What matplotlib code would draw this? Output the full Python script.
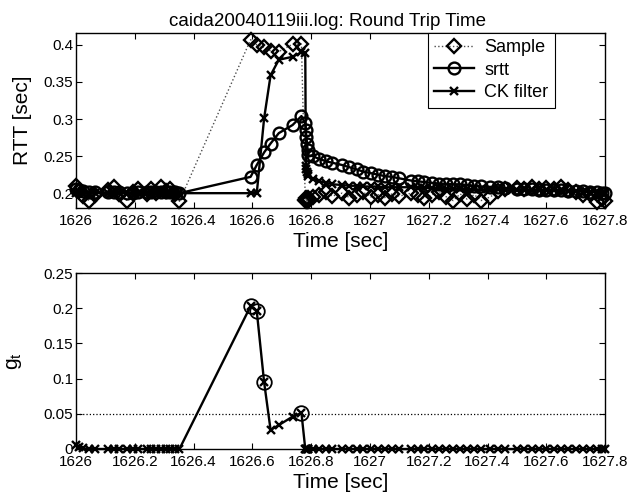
import matplotlib
matplotlib.use('Agg')
import matplotlib.pyplot as plt
import numpy as np

plt.rcParams['font.family'] = ['Liberation Sans', 'DejaVu Sans']
plt.rcParams['mathtext.fontset'] = 'custom'
plt.rcParams['mathtext.rm'] = 'Liberation Sans'

# sample times [sec]
t = [1626.000, 1626.012, 1626.025, 1626.045, 1626.065, 1626.110, 1626.128, 1626.145,
     1626.175, 1626.195, 1626.210, 1626.240, 1626.255, 1626.272, 1626.290, 1626.305,
     1626.320, 1626.338, 1626.352,
     1626.594, 1626.615, 1626.640, 1626.662, 1626.690, 1626.737, 1626.767,
     1626.780, 1626.782, 1626.784, 1626.786, 1626.788, 1626.790,
     1626.805, 1626.828, 1626.852, 1626.872, 1626.905, 1626.930, 1626.955, 1626.978,
     1627.003, 1627.028, 1627.050, 1627.075, 1627.100, 1627.140, 1627.162, 1627.185,
     1627.210, 1627.235, 1627.260, 1627.283, 1627.307, 1627.330, 1627.355, 1627.378,
     1627.410, 1627.435, 1627.460, 1627.500, 1627.525, 1627.550, 1627.575, 1627.600,
     1627.625, 1627.650, 1627.675, 1627.700, 1627.725, 1627.750, 1627.772, 1627.790,
     1627.800]

rtt_sample = [0.210, 0.203, 0.196, 0.190, 0.198, 0.204, 0.208, 0.199,
              0.190, 0.201, 0.205, 0.199, 0.206, 0.200, 0.208, 0.203,
              0.205, 0.199, 0.189,
              0.407, 0.400, 0.397, 0.392, 0.391, 0.401, 0.401,
              0.191, 0.190, 0.193, 0.189, 0.194, 0.190,
              0.195, 0.198, 0.201, 0.196, 0.200, 0.194, 0.197, 0.201,
              0.195, 0.198, 0.194, 0.199, 0.196, 0.200, 0.197, 0.193,
              0.198, 0.201, 0.195, 0.190, 0.199, 0.192, 0.198, 0.190,
              0.195, 0.203, 0.206, 0.207, 0.206, 0.208, 0.205, 0.207,
              0.206, 0.208, 0.204, 0.201, 0.197, 0.199, 0.188, 0.192,
              0.189]

srtt = [0.205, 0.204, 0.203, 0.201, 0.201, 0.201, 0.202, 0.202,
        0.200, 0.200, 0.201, 0.201, 0.201, 0.201, 0.202, 0.202,
        0.202, 0.202, 0.200,
        0.222, 0.238, 0.255, 0.267, 0.281, 0.292, 0.304,
        0.294, 0.285, 0.276, 0.267, 0.258, 0.251,
        0.250, 0.246, 0.243, 0.241, 0.238, 0.235, 0.232, 0.229,
        0.227, 0.225, 0.223, 0.222, 0.220, 0.217, 0.216, 0.215,
        0.214, 0.213, 0.2125, 0.212, 0.212, 0.211, 0.210, 0.209,
        0.2085, 0.208, 0.207, 0.2055, 0.205, 0.205, 0.2045, 0.2045,
        0.204, 0.204, 0.2035, 0.203, 0.2025, 0.202, 0.201, 0.2005,
        0.200]

ck_filter = [0.200, 0.200, 0.200, 0.200, 0.200, 0.200, 0.200, 0.200,
             0.200, 0.200, 0.200, 0.200, 0.200, 0.200, 0.200, 0.200,
             0.200, 0.200, 0.200,
             0.200, 0.200, 0.301, 0.359, 0.380, 0.384, 0.390,
             0.389, 0.236, 0.233, 0.229, 0.226, 0.2235,
             0.219, 0.216, 0.214, 0.212, 0.211, 0.210, 0.210, 0.209,
             0.209, 0.209, 0.208, 0.208, 0.208, 0.208, 0.207, 0.207,
             0.207, 0.207, 0.206, 0.206, 0.206, 0.206, 0.205, 0.205,
             0.205, 0.205, 0.204, 0.204, 0.204, 0.204, 0.204, 0.204,
             0.204, 0.204, 0.203, 0.203, 0.202, 0.202, 0.201, 0.200,
             0.200]

g_t = [0.006, 0.003, 0.001, 0.000, 0.000, 0.000, 0.000, 0.000,
       0.000, 0.000, 0.000, 0.000, 0.000, 0.000, 0.000, 0.000,
       0.000, 0.000, 0.000,
       0.203, 0.196, 0.095, 0.027, 0.034, 0.046, 0.051,
       0.000, 0.000, 0.000, 0.000, 0.000, 0.000,
       0.000, 0.000, 0.000, 0.000, 0.000, 0.000, 0.000, 0.000,
       0.000, 0.000, 0.000, 0.000, 0.000, 0.000, 0.000, 0.000,
       0.000, 0.000, 0.000, 0.000, 0.000, 0.000, 0.000, 0.000,
       0.000, 0.000, 0.000, 0.000, 0.000, 0.000, 0.000, 0.000,
       0.000, 0.000, 0.000, 0.000, 0.000, 0.000, 0.000, 0.000,
       0.000]

threshold = 0.05
xticks = [1626, 1626.2, 1626.4, 1626.6, 1626.8, 1627, 1627.2, 1627.4, 1627.6, 1627.8]
xticklabels = ['1626', '1626.2', '1626.4', '1626.6', '1626.8', '1627',
               '1627.2', '1627.4', '1627.6', '1627.8']

t = np.array(t)
g_t = np.array(g_t)

fig = plt.figure(figsize=(6.33, 4.97), dpi=100)
ax1 = fig.add_axes([0.120, 0.5815, 0.836, 0.352])
ax2 = fig.add_axes([0.120, 0.0966, 0.836, 0.354])


def style(ax):
    ax.set_xlim(1626, 1627.8)
    ax.set_xticks(xticks)
    ax.set_xticklabels(xticklabels)
    ax.tick_params(direction='in', top=True, right=True, labelsize=11,
                   length=4, width=0.8, colors='black')
    ax.tick_params(axis='x', pad=4)
    ax.tick_params(axis='y', pad=2)
    for s in ax.spines.values():
        s.set_linewidth(1.0)


ax1.plot(t, rtt_sample, ':', color='0.3', lw=1.0, marker='D', ms=7.5,
         mfc='none', mec='black', mew=1.7, label='Sample', clip_on=False)
ax1.plot(t, srtt, '-', color='black', lw=1.7, marker='o', ms=8.5,
         mfc='none', mew=1.7, label='srtt', clip_on=False)
ax1.plot(t, ck_filter, '-', color='black', lw=1.7, marker='x', ms=6,
         mew=1.7, label='CK filter', clip_on=False)
style(ax1)
ax1.set_ylim(0.18, 0.416)
ax1.set_yticks([0.2, 0.25, 0.3, 0.35, 0.4])
ax1.set_yticklabels(['0.2', '0.25', '0.3', '0.35', '0.4'])
ax1.set_xlabel('Time [sec]', fontsize=15, labelpad=3)
ax1.set_ylabel('RTT [sec]', fontsize=15, labelpad=8)
ax1.set_title('caida20040119iii.log: Round Trip Time', fontsize=13.5, pad=5,
              x=0.475)
leg = ax1.legend(loc='upper right', bbox_to_anchor=(0.905, 1.0), fontsize=13,
                 fancybox=False, edgecolor='black', framealpha=1,
                 borderaxespad=0, handlelength=2.2, borderpad=0.35,
                 labelspacing=0.3, handletextpad=0.6)
leg.get_frame().set_linewidth(0.8)

ax2.axhline(threshold, color='black', ls=':', lw=0.9)
ax2.plot(t, g_t, '-', color='black', lw=1.7, marker='x', ms=6, mew=1.7,
         clip_on=False)
above = g_t >= threshold
ax2.plot(t[above], g_t[above], 'o', ms=10.5, mfc='none', mec='black', mew=1.3,
         clip_on=False)
style(ax2)
ax2.set_ylim(0, 0.25)
ax2.set_yticks([0, 0.05, 0.1, 0.15, 0.2, 0.25])
ax2.set_yticklabels(['0', '0.05', '0.1', '0.15', '0.2', '0.25'])
ax2.set_xlabel('Time [sec]', fontsize=15, labelpad=3)
ax2.set_ylabel(r'g$_\mathregular{t}$', fontsize=15, labelpad=14)

fig.savefig('out.png', dpi=100)
